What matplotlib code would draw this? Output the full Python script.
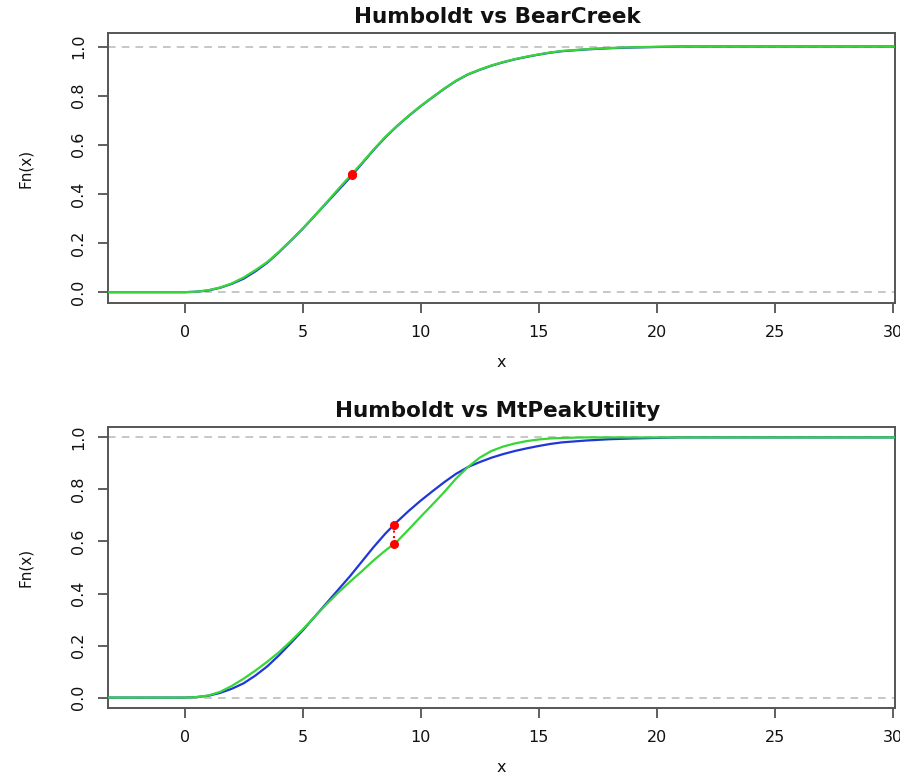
import matplotlib
matplotlib.use("Agg")
import matplotlib.pyplot as plt
import numpy as np

# ---- data ----
x_grid = [0, 0.5, 1, 1.5, 2, 2.5, 3, 3.5, 4, 4.5, 5, 5.5, 6, 6.5, 7, 7.5, 8, 8.5,
          9, 9.5, 10, 10.5, 11, 11.5, 12, 12.5, 13, 13.5, 14, 14.5, 15, 15.5, 16,
          17, 18, 19, 20, 21]
humboldt = [0, 0.002, 0.007, 0.018, 0.034, 0.055, 0.085, 0.12, 0.163, 0.21, 0.258,
            0.31, 0.362, 0.414, 0.466, 0.522, 0.578, 0.63, 0.676, 0.718, 0.757,
            0.793, 0.828, 0.86, 0.886, 0.905, 0.922, 0.936, 0.948, 0.958, 0.967,
            0.975, 0.981, 0.988, 0.993, 0.996, 0.998, 1.0]
bearcreek = [0, 0.002, 0.008, 0.019, 0.036, 0.06, 0.09, 0.123, 0.165, 0.211, 0.259,
             0.311, 0.364, 0.419, 0.472, 0.525, 0.58, 0.632, 0.677, 0.719, 0.758,
             0.794, 0.829, 0.861, 0.887, 0.906, 0.923, 0.937, 0.949, 0.959, 0.968,
             0.976, 0.982, 0.989, 0.994, 0.997, 0.999, 1.0]
mtpeak = [0, 0.002, 0.008, 0.022, 0.045, 0.073, 0.104, 0.138, 0.175, 0.217, 0.262,
          0.31, 0.358, 0.403, 0.445, 0.485, 0.527, 0.565, 0.60, 0.647, 0.695,
          0.742, 0.79, 0.842, 0.886, 0.922, 0.948, 0.965, 0.977, 0.986, 0.992,
          0.996, 0.998, 1.0, 1.0, 1.0, 1.0, 1.0]

panels = [
    {"title": "Humboldt vs BearCreek", "a": humboldt, "b": bearcreek,
     "ks_x": 7.1, "ks_y": [0.477, 0.482]},
    {"title": "Humboldt vs MtPeakUtility", "a": humboldt, "b": mtpeak,
     "ks_x": 8.87, "ks_y": [0.662, 0.591]},
]
x_ticks = [0, 5, 10, 15, 20, 25, 30]
y_ticks = [0.0, 0.2, 0.4, 0.6, 0.8, 1.0]

BLUE = "#2036d8"
GREEN = "#36d636"
XLIM = (-3.25, 30.1)

W, H = 900, 780
fig = plt.figure(figsize=(9, 7.8), dpi=100)
plt.rcParams['font.family'] = ['DejaVu Sans']

boxes = [(108, 33, 895, 303, (-0.044, 1.055)), (108, 427, 895, 708, (-0.04, 1.04))]

for p, (l, t, r, b, ylim) in zip(panels, boxes):
    ax = fig.add_axes([l / W, 1 - b / H, (r - l) / W, (b - t) / H])
    ax.set_xlim(*XLIM)
    ax.set_ylim(*ylim)
    xs = [XLIM[0]] + list(x_grid) + [XLIM[1]]
    for ys, c in ((p["a"], BLUE), (p["b"], GREEN)):
        yy = [ys[0]] + list(ys) + [ys[-1]]
        ax.plot(xs, yy, color=c, lw=1.6, zorder=3, solid_capstyle="round")
    for h in (0, 1):
        ax.axhline(h, color="#b8b8b8", lw=1.1, ls=(0, (5, 4)), zorder=2)
    ax.plot([p["ks_x"], p["ks_x"]], p["ks_y"], color="red", ls=":", lw=1.5, zorder=4)
    ax.plot([p["ks_x"]] * 2, p["ks_y"], "o", color="red", ms=6.5, zorder=5,
            markeredgewidth=0)

    ax.set_xticks(x_ticks)
    ax.set_xticklabels([str(v) for v in x_ticks])
    ax.set_yticks(y_ticks)
    ax.set_yticklabels([f"{v:.1f}" for v in y_ticks], rotation=90, va="center")
    ax.tick_params(axis="both", direction="out", length=7, width=1.2,
                   color="#444444", labelsize=11.5, labelcolor="#111111")
    ax.tick_params(axis="x", pad=9)
    ax.tick_params(axis="y", pad=9)
    for s in ax.spines.values():
        s.set_color("#555555")
        s.set_linewidth(1.4)

    hpx = b - t
    ax.set_xlabel("x", fontsize=11.5, color="#111111")
    ax.xaxis.set_label_coords(0.5, -60 / hpx)
    ax.xaxis.label.set_va("center")
    ax.set_ylabel("Fn(x)", fontsize=11, color="#111111")
    ax.yaxis.set_label_coords(-(83) / (r - l), 0.5)
    ax.yaxis.label.set_va("center")
    ax.text(0.495, 1 + 16 / hpx, p["title"], transform=ax.transAxes, ha="center",
            va="center", fontsize=15.5, fontweight="bold", color="#111111")

fig.savefig("out.png", dpi=100)
